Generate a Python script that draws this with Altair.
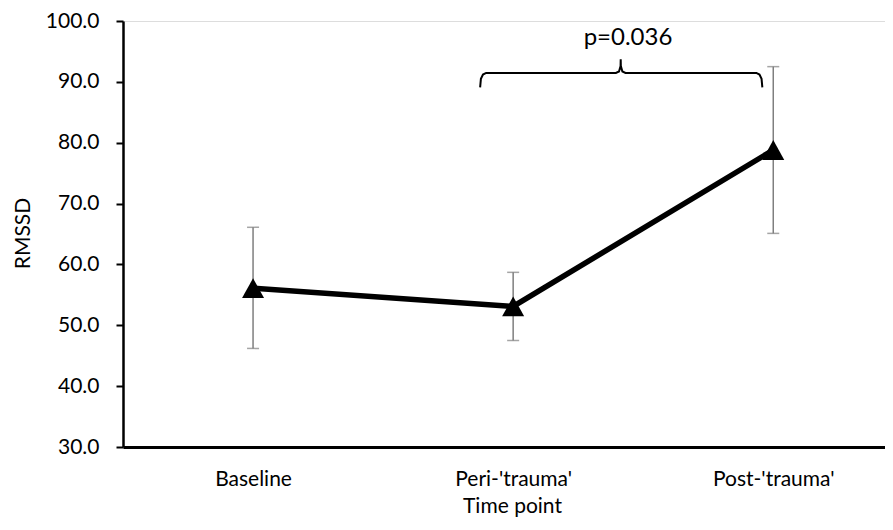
import altair as alt
import pandas as pd

# ---- data ----
categories = ["Baseline", "Peri-'trauma'", "Post-'trauma'"]
idx = [0, 1, 2]
rmssd_mean = [56.1, 53.1, 78.8]
rmssd_upper = [66.1, 58.7, 92.5]
rmssd_lower = [46.2, 47.5, 65.1]

# significance brace (x in category index units, y in RMSSD units)
brace_x = [0.873, 0.876, 0.884, 0.896, 1.395, 1.407, 1.413, 1.4135, 1.414, 1.420, 1.432, 1.935, 1.947, 1.955, 1.958]
brace_y = [89.1, 90.5, 91.2, 91.47, 91.47, 91.7, 92.6, 93.7, 92.6, 91.7, 91.47, 91.47, 91.2, 90.5, 89.1]
p_label = ["p=0.036"]
p_x = [1.4415]
p_y = [96.1]

df = pd.DataFrame({"idx": idx, "cat": categories, "mean": rmssd_mean,
                   "upper": rmssd_upper, "lower": rmssd_lower})
brace_df = pd.DataFrame({"bx": brace_x, "by": brace_y, "ord": list(range(len(brace_x)))})
p_df = pd.DataFrame({"px": p_x, "py": p_y, "label": p_label})

FONT = "Lato"
label_expr = "[" + ",".join('"' + c + '"' for c in categories) + "][datum.value]"

x_scale = alt.Scale(domain=[-0.5, 2.4296], nice=False, zero=False)
y_scale = alt.Scale(domain=[30, 100], nice=False, zero=False)

x_axis = alt.Axis(values=idx, labelExpr=label_expr, grid=False, ticks=False, tickSize=0,
                  domainColor="black", domainWidth=3, labelFont=FONT, labelFontSize=21,
                  labelColor="black", labelPadding=21, labelFlush=False,
                  title="Time point", titleFont=FONT, titleFontSize=21, titleFontWeight="normal",
                  titleColor="black", titleX=389, titleY=65, titleBaseline="alphabetic",
                  titleAlign="center")
y_axis = alt.Axis(values=[30, 40, 50, 60, 70, 80, 90, 100], format=".1f", grid=False,
                  domainColor="black", domainWidth=2.5, tickColor="black", tickWidth=2,
                  tickSize=7, labelFont=FONT, labelFontSize=21, labelColor="black",
                  labelPadding=17, labelFlush=False,
                  title="RMSSD", titleFont=FONT, titleFontSize=21, titleFontWeight="normal",
                  titleColor="black", titleX=-100, titleY=212, titleAngle=-90,
                  titleBaseline="middle", titleAlign="center")


def X(field):
    return alt.X(f"{field}:Q", scale=x_scale, axis=x_axis)


def Y(field):
    return alt.Y(f"{field}:Q", scale=y_scale, axis=y_axis)


base = alt.Chart(df)

err_rule = base.mark_rule(color="#7f7f7f", strokeWidth=1.5).encode(
    x=X("idx"), y=Y("lower"), y2="upper:Q")
cap_hi = base.mark_tick(color="#7f7f7f", orient="horizontal", size=12, thickness=1.5).encode(
    x=X("idx"), y=Y("upper"))
cap_lo = base.mark_tick(color="#7f7f7f", orient="horizontal", size=12, thickness=1.5).encode(
    x=X("idx"), y=Y("lower"))
line = base.mark_line(color="black", strokeWidth=5.5).encode(x=X("idx"), y=Y("mean"))
points = base.mark_point(shape="M-1,0.9L1,0.9L0,-0.9Z", filled=True, size=484,
                         color="black", opacity=1).encode(x=X("idx"), y=Y("mean"))

brace = alt.Chart(brace_df).mark_line(color="black", strokeWidth=2).encode(
    x=X("bx"), y=Y("by"), order="ord:Q")
ptext = alt.Chart(p_df).mark_text(font=FONT, fontSize=24, color="black", align="center",
                                  baseline="alphabetic").encode(
    x=X("px"), y=Y("py"), text="label:N")

chart = alt.layer(err_rule, cap_hi, cap_lo, line, points, brace, ptext).properties(
    width=762, height=426,
    autosize=alt.AutoSizeParams(type="none"),
    padding={"left": 115, "top": 13, "right": 0, "bottom": 71},
).configure_view(stroke=None).configure(font=FONT, background="white")

chart.save("out.html", embed_options={"renderer": "svg", "actions": False})
